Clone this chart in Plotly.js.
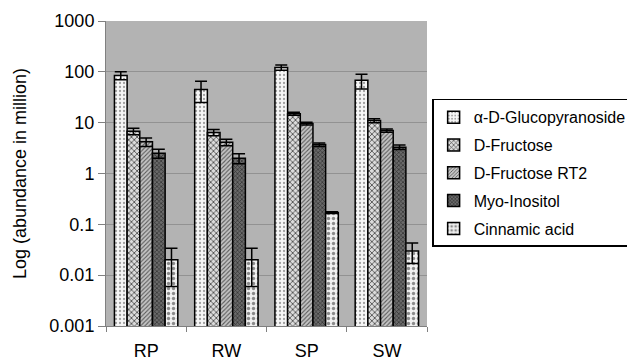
<!DOCTYPE html>
<html>
<head>
<meta charset="utf-8">
<script src="https://cdn.plot.ly/plotly-3.0.1.min.js"></script>
<style>html,body{margin:0;padding:0;background:#fff;}#chart{width:627px;height:363px;}</style>
</head>
<body>
<div id="chart"></div>
<script>
const categories = ["RP", "RW", "SP", "SW"];
const seriesNames = ["α-D-Glucopyranoside", "D-Fructose", "D-Fructose RT2", "Myo-Inositol", "Cinnamic acid"];
const glucopyranoside = [85, 45, 122, 68];
const glucopyranosideErr = [15, 20, 15, 22];
const fructose = [6.8, 6.4, 15, 11];
const fructoseErr = [1.0, 0.9, 1.0, 1.0];
const fructoseRT2 = [4.2, 4.1, 9.6, 7.0];
const fructoseRT2Err = [0.8, 0.6, 0.6, 0.5];
const myoInositol = [2.5, 2.0, 3.7, 3.3];
const myoInositolErr = [0.5, 0.45, 0.3, 0.35];
const cinnamic = [0.02, 0.02, 0.17, 0.03];
const cinnamicErr = [0.014, 0.014, 0.006, 0.013];
const tickVals = [0.001, 0.01, 0.1, 1, 10, 100, 1000];
const tickText = ["0.001", "0.01", "0.1", "1", "10", "100", "1000"];

const values = [glucopyranoside, fructose, fructoseRT2, myoInositol, cinnamic];
const errors = [glucopyranosideErr, fructoseErr, fructoseRT2Err, myoInositolErr, cinnamicErr];
const patterns = [
  {shape: ".", bgcolor: "#f6f6f6", fgcolor: "#a0a0a0", size: 4, solidity: 0.25, fillmode: "replace"},
  {shape: "x", bgcolor: "#dcdcdc", fgcolor: "#3a3a3a", size: 4, solidity: 0.35, fillmode: "replace"},
  {shape: "/", bgcolor: "#c4c4c4", fgcolor: "#5a5a5a", size: 3, solidity: 0.35, fillmode: "replace"},
  {shape: "x", bgcolor: "#6a6a6a", fgcolor: "#2e2e2e", size: 3, solidity: 0.4, fillmode: "replace"},
  {shape: ".", bgcolor: "#f0f0f0", fgcolor: "#8a8a8a", size: 5, solidity: 0.35, fillmode: "replace"}
];

const traces = seriesNames.map((name, i) => ({
  type: "bar",
  name: name,
  x: categories,
  y: values[i],
  legendgroup: "g" + i,
  marker: {color: patterns[i].bgcolor, pattern: patterns[i], line: {color: "#000", width: 1.5}},
  error_y: {type: "data", array: errors[i], visible: true, color: "#000", thickness: 1.5, width: 6}
}));

const layout = {
  width: 627, height: 363,
  margin: {l: 106, r: 200, t: 21, b: 37, autoexpand: false},
  paper_bgcolor: "#ffffff",
  plot_bgcolor: "#b3b3b3",
  font: {family: "Liberation Sans, Arial, sans-serif", color: "#000"},
  barmode: "group",
  bargap: 0.21,
  bargroupgap: 0,
  showlegend: true,
  legend: {
    x: 1.016, xanchor: "left", y: 0.745, yanchor: "top",
    bgcolor: "#ffffff", bordercolor: "#000", borderwidth: 1.5,
    font: {size: 16, color: "#000"},
    tracegroupgap: 4,
    itemwidth: 30,
    traceorder: "grouped"
  },
  xaxis: {
    type: "category",
    tickson: "boundaries",
    ticks: "outside", ticklen: 5, tickcolor: "#808080",
    showgrid: false,
    showline: true, linecolor: "#808080", linewidth: 1,
    tickfont: {size: 18},
    ticklabelstandoff: 8
  },
  yaxis: {
    type: "log",
    range: [-3, 3],
    tickvals: tickVals, ticktext: tickText,
    ticks: "outside", ticklen: 7, tickcolor: "#808080",
    showgrid: true, gridcolor: "#929292", gridwidth: 1,
    showline: true, linecolor: "#808080", linewidth: 1,
    zeroline: false,
    tickfont: {size: 18},
    title: {text: "Log (abundance in million)", font: {size: 18}, standoff: 18}
  }
};

Plotly.newPlot("chart", traces, layout, {displayModeBar: false, staticPlot: true});
</script>
</body>
</html>
